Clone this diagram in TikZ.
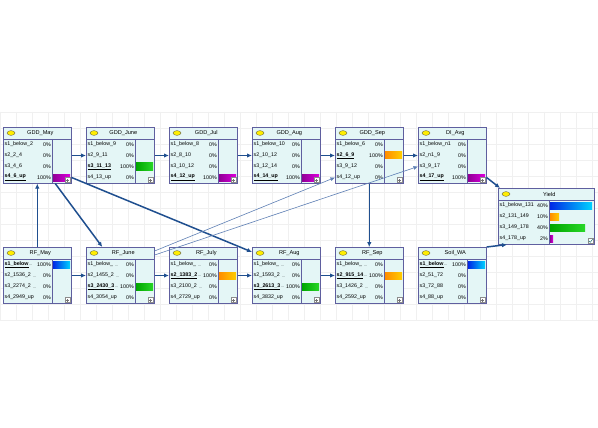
\documentclass[tikz,border=0pt]{standalone}
\usepackage{fontspec}
\setmainfont{Liberation Sans}
\usetikzlibrary{arrows.meta}
\definecolor{netedge}{HTML}{1F4F8F}
\definecolor{thinedge}{HTML}{5F80B5}
\definecolor{netborder}{HTML}{5F5F9F}
\definecolor{netfill}{HTML}{E4F6F6}
\newcommand{\hl}[1]{\underline{\textbf{#1}}}
\newcommand{\dd}{\,\raisebox{-0.6pt}{\fontsize{3.6}{4}\selectfont...}}
\tikzset{
  netframe/.style={draw=netborder, fill=netfill, line width=0.6pt, anchor=north west, minimum height=56pt, inner sep=0pt},
  netline/.style={draw=netborder, line width=0.5pt},
  lamp/.style={fill=yellow!95!orange, draw=black!70, line width=0.3pt},
  titletext/.style={font=\fontsize{5.6}{6}\selectfont, inner sep=0pt},
  statetext/.style={font=\fontsize{5.3}{6}\selectfont, inner sep=0pt},
  link/.style={draw=netedge, line width=1.5pt, -{Latex[length=5pt,width=4.5pt]}},
  thinlink/.style={draw=thinedge, line width=0.6pt, -{Latex[length=4.5pt,width=4pt]}},
  gridline/.style={draw=black!6, line width=0.3pt},
  iconbox/.style={draw=black!45, fill=white, line width=0.3pt},
  bluebar/.style={left color={rgb,255:red,0;green,40;blue,230}, right color={rgb,255:red,0;green,210;blue,255}},
  orangebar/.style={left color={rgb,255:red,255;green,140;blue,0}, right color={rgb,255:red,255;green,205;blue,0}},
  greenbar/.style={left color={rgb,255:red,0;green,165;blue,0}, right color={rgb,255:red,40;green,215;blue,40}},
  purplebar/.style={left color={rgb,255:red,145;green,0;blue,150}, right color={rgb,255:red,220;green,0;blue,220}},
}
% #1 name, #2 top left, #3 width, #4 text column, #5 title, #6 states
\newcommand{\netbox}[6]{%
  \node[netframe, minimum width=#3pt] (#1) at (#2) {};
  \draw[netline] ([yshift=-12pt]#1.north west) -- ([yshift=-12pt]#1.north east);
  \draw[netline] ([xshift=#4pt,yshift=-12pt]#1.north west) -- ([xshift=#4pt]#1.south west);
  \filldraw[lamp] ([xshift=8pt,yshift=-6pt]#1.north west) ellipse (4pt and 2.4pt);
  \node[titletext] at ([xshift=3pt,yshift=-6pt]#1.north) {#5};
  \foreach \st/\pc/\bcol/\blen [count=\i] in {#6} {
    \coordinate (#1-w\i) at ([yshift={-(6.5+11*\i)*1pt}]#1.north west);
    \coordinate (#1-e\i) at ([yshift={-(6.5+11*\i)*1pt}]#1.north east);
    \node[statetext, anchor=west] at ([xshift=1.5pt]#1-w\i) {\st};
    \node[statetext, anchor=east] at ([xshift={(#4-1)*1pt}]#1-w\i) {\pc};
    \ifnum\blen>0
      \shade[\bcol] ([xshift={(#4+1)*1pt},yshift=3.5pt]#1-w\i) rectangle ++(\blen pt,-7pt);
    \fi
  }
}

\begin{document}
\begin{tikzpicture}[x=1pt,y=-1pt]
  \useasboundingbox[fill=white] (0,0) rectangle (598,428);
  % background grid
  \foreach \gx in {0,16,...,598} \draw[gridline] (\gx,112) -- (\gx,320);
  \foreach \gy in {112,128,...,320} \draw[gridline] (0,\gy) -- (598,\gy);

  % top row
  \netbox{gddmay}{3,127}{68}{49}{GDD\_May}{{s1\_below\_2}/0\%/none/0, {s2\_2\_4}/0\%/none/0, {s3\_4\_6}/0\%/none/0, {\hl{s4\_6\_up}}/100\%/purplebar/17}
  \netbox{gddjune}{86,127}{68}{49}{GDD\_June}{{s1\_below\_9}/0\%/none/0, {s2\_9\_11}/0\%/none/0, {\hl{s3\_11\_13}}/100\%/greenbar/17, {s4\_13\_up}/0\%/none/0}
  \netbox{gddjul}{169,127}{68}{49}{GDD\_Jul}{{s1\_below\_8}/0\%/none/0, {s2\_8\_10}/0\%/none/0, {s3\_10\_12}/0\%/none/0, {\hl{s4\_12\_up}}/100\%/purplebar/17}
  \netbox{gddaug}{252,127}{68}{49}{GDD\_Aug}{{s1\_below\_10}/0\%/none/0, {s2\_10\_12}/0\%/none/0, {s3\_12\_14}/0\%/none/0, {\hl{s4\_14\_up}}/100\%/purplebar/17}
  \netbox{gddsep}{335,127}{68}{49}{GDD\_Sep}{{s1\_below\_6}/0\%/none/0, {\hl{s2\_6\_9}}/100\%/orangebar/17, {s3\_9\_12}/0\%/none/0, {s4\_12\_up}/0\%/none/0}
  \netbox{diavg}{418,127}{68}{49}{DI\_Avg}{{s1\_below\_n1}/0\%/none/0, {s2\_n1\_9}/0\%/none/0, {s3\_9\_17}/0\%/none/0, {\hl{s4\_17\_up}}/100\%/purplebar/17}

  % bottom row
  \netbox{rfmay}{3,247}{68}{49}{RF\_May}{{\hl{s1\_below}\dd}/100\%/bluebar/17, {s2\_1536\_2 \dd}/0\%/none/0, {s3\_2274\_2 \dd}/0\%/none/0, {s4\_2949\_up}/0\%/none/0}
  \netbox{rfjune}{86,247}{68}{49}{RF\_June}{{s1\_below\_ \dd}/0\%/none/0, {s2\_1455\_2 \dd}/0\%/none/0, {\hl{s3\_2430\_3}\dd}/100\%/greenbar/17, {s4\_3054\_up}/0\%/none/0}
  \netbox{rfjuly}{169,247}{68}{49}{RF\_July}{{s1\_below\_ \dd}/0\%/none/0, {\hl{s2\_1383\_2}\dd}/100\%/orangebar/17, {s3\_2100\_2 \dd}/0\%/none/0, {s4\_2729\_up}/0\%/none/0}
  \netbox{rfaug}{252,247}{68}{49}{RF\_Aug}{{s1\_below\_ \dd}/0\%/none/0, {s2\_1593\_2 \dd}/0\%/none/0, {\hl{s3\_2613\_3}\dd}/100\%/greenbar/17, {s4\_3832\_up}/0\%/none/0}
  \netbox{rfsep}{335,247}{68}{49}{RF\_Sep}{{s1\_below\_ \dd}/0\%/none/0, {\hl{s2\_915\_14}\dd}/100\%/orangebar/17, {s3\_1426\_2 \dd}/0\%/none/0, {s4\_2592\_up}/0\%/none/0}
  \netbox{soilwa}{418,247}{68}{49}{Soil\_WA}{{\hl{s1\_below}\dd}/100\%/bluebar/17, {s2\_51\_72}/0\%/none/0, {s3\_72\_88}/0\%/none/0, {s4\_88\_up}/0\%/none/0}

  % result
  \netbox{yield}{498,188}{96}{51}{Yield}{{s1\_below\_131}/40\%/bluebar/42, {s2\_131\_149}/10\%/orangebar/9, {s3\_149\_178}/40\%/greenbar/35, {s4\_178\_up}/2\%/purplebar/3}

  % expand icons
  \foreach \n in {gddmay,gddjune,gddjul,gddaug,gddsep,diavg,rfmay,rfjune,rfjuly,rfaug,rfsep,soilwa} {
    \draw[iconbox] ([xshift=-6.5pt,yshift=1pt]\n.south east) rectangle ++(5pt,5pt);
    \draw[black!55, line width=0.3pt] ([xshift=-4pt,yshift=2pt]\n.south east) -- ++(0pt,3pt)
      ([xshift=-5.5pt,yshift=3.5pt]\n.south east) -- ++(3pt,0pt);
  }
  \draw[iconbox] ([xshift=-6.5pt,yshift=1pt]yield.south east) rectangle ++(5pt,5pt);
  \draw[teal!80!black, line width=0.4pt] ([xshift=-5.6pt,yshift=3.6pt]yield.south east) -- ++(1.2pt,-1.3pt) -- ++(2.5pt,3pt);

  % links
  \draw[link] (gddmay-e2) -- (gddjune-w2);
  \draw[link] (gddjune-e2) -- (gddjul-w2);
  \draw[link] (gddjul-e2) -- (gddaug-w2);
  \draw[link] (gddaug-e2) -- (gddsep-w2);
  \draw[link] (gddsep-e2) -- (diavg-w2);
  \draw[link] (rfmay-e2) -- (rfjune-w2);
  \draw[link] (rfjune-e2) -- (rfjuly-w2);
  \draw[link] (rfjuly-e2) -- (rfaug-w2);
  \draw[link] (rfaug-e2) -- (rfsep-w2);
  \draw[link] (rfmay.north) -- (gddmay.south);
  \draw[link] ([xshift=18pt]gddmay.south) -- ([xshift=-18pt]rfjune.north);
  \draw[link] (gddmay-e4) -- ([yshift=-5pt]rfaug.north west);
  \draw[link] (gddsep.south) -- (rfsep.north);
  \draw[link] (diavg-e4) -- ([xshift=2pt]yield.north west);
  \draw[link] (soilwa.north east) -- ([xshift=9pt]yield.south west);
  \draw[thinlink] ([yshift=-4pt]rfjune.north east) -- (gddsep-w4);
  \draw[thinlink] ([yshift=-8pt]rfjune.north east) -- (diavg-w3);
\end{tikzpicture}
\end{document}
